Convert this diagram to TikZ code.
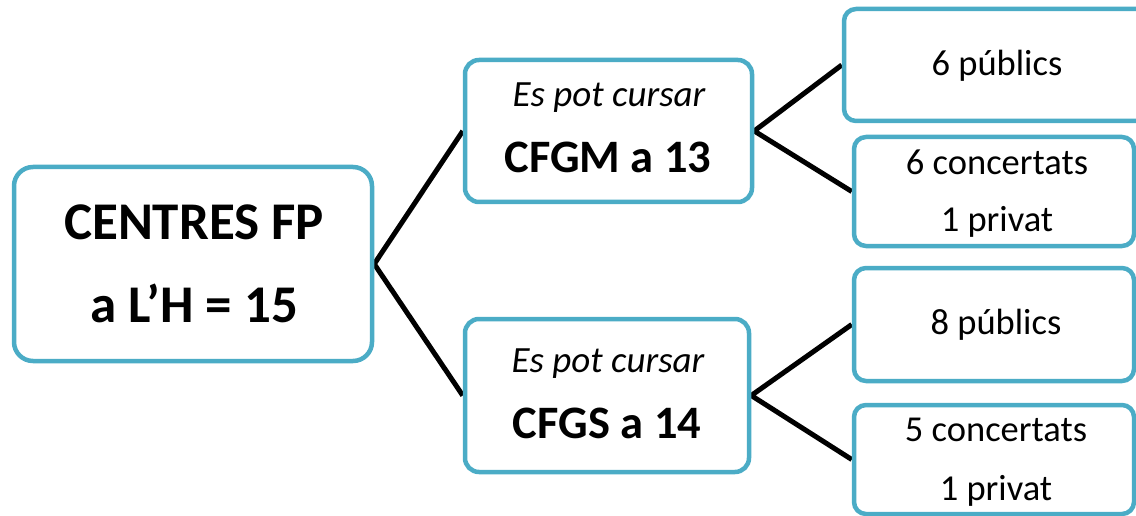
\documentclass[tikz,border=0pt]{standalone}
\usepackage{fontspec}
\setmainfont{Carlito}
\usetikzlibrary{backgrounds}
\definecolor{boxblue}{HTML}{4BACC6}
\begin{document}
\begin{tikzpicture}[x=1pt,y=-1pt,
  box/.style={draw=boxblue, line width=4.5pt, rounded corners=14pt, fill=white, inner sep=0pt},
  conn/.style={line width=5pt, draw=black, line join=miter},
  lbl/.style={anchor=base, inner sep=0pt},
  rootfont/.style={font=\fontsize{53}{60}\selectfont\bfseries},
  midit/.style={font=\fontsize{37}{40}\selectfont\itshape},
  midbf/.style={font=\fontsize{46.5}{50}\selectfont\bfseries},
  leaf/.style={font=\fontsize{36.5}{40}\selectfont}]
\useasboundingbox (0,0) rectangle (1136,516);
\clip (0,0) rectangle (1136,516);
% boxes
\node[box, rounded corners=19pt, minimum width=358pt, minimum height=194pt] (root) at (193,264) {};
\node[box, minimum width=287pt, minimum height=142pt] (mt) at (608.5,131) {};
\node[box, minimum width=284pt, minimum height=153pt] (mb) at (607,395.5) {};
\node[box, rounded corners=12pt, minimum width=306pt, minimum height=112pt] (r1) at (997,65) {};
\node[box, rounded corners=12pt, minimum width=280pt, minimum height=109pt] (r2) at (994,191.5) {};
\node[box, rounded corners=12pt, minimum width=280pt, minimum height=113pt] (r3) at (994,324.5) {};
\node[box, rounded corners=12pt, minimum width=280pt, minimum height=109pt] (r4) at (994,459.5) {};
% texts
\node[lbl, rootfont] (rootA) at (194,240) {CENTRES FP};
\node[lbl, rootfont] (rootB) at (194,322) {a L’H = 15};
\node[lbl, midit] (mtA) at (609,107) {Es pot cursar};
\node[lbl, midbf] (mtB) at (608,173) {CFGM a 13};
\node[lbl, midit] (mbA) at (608,372) {Es pot cursar};
\node[lbl, midbf] (mbB) at (607,438) {CFGS a 14};
\node[lbl, leaf] (r1A) at (997,76) {6 públics};
\node[lbl, leaf] (r2A) at (997,175) {6 concertats};
\node[lbl, leaf] (r2B) at (997,232) {1 privat};
\node[lbl, leaf] (r3A) at (996,334) {8 públics};
\node[lbl, leaf] (r4A) at (996,441) {5 concertats};
\node[lbl, leaf] (r4B) at (996,500) {1 privat};
% connectors
\begin{scope}[on background layer]
\draw[conn] (mt.west) -- (root.east) -- (mb.west);
\draw[conn] (r1.west) -- (mt.east) -- (r2.west);
\draw[conn] (r3.west) -- (mb.east) -- (r4.west);
\end{scope}
\end{tikzpicture}
\end{document}
